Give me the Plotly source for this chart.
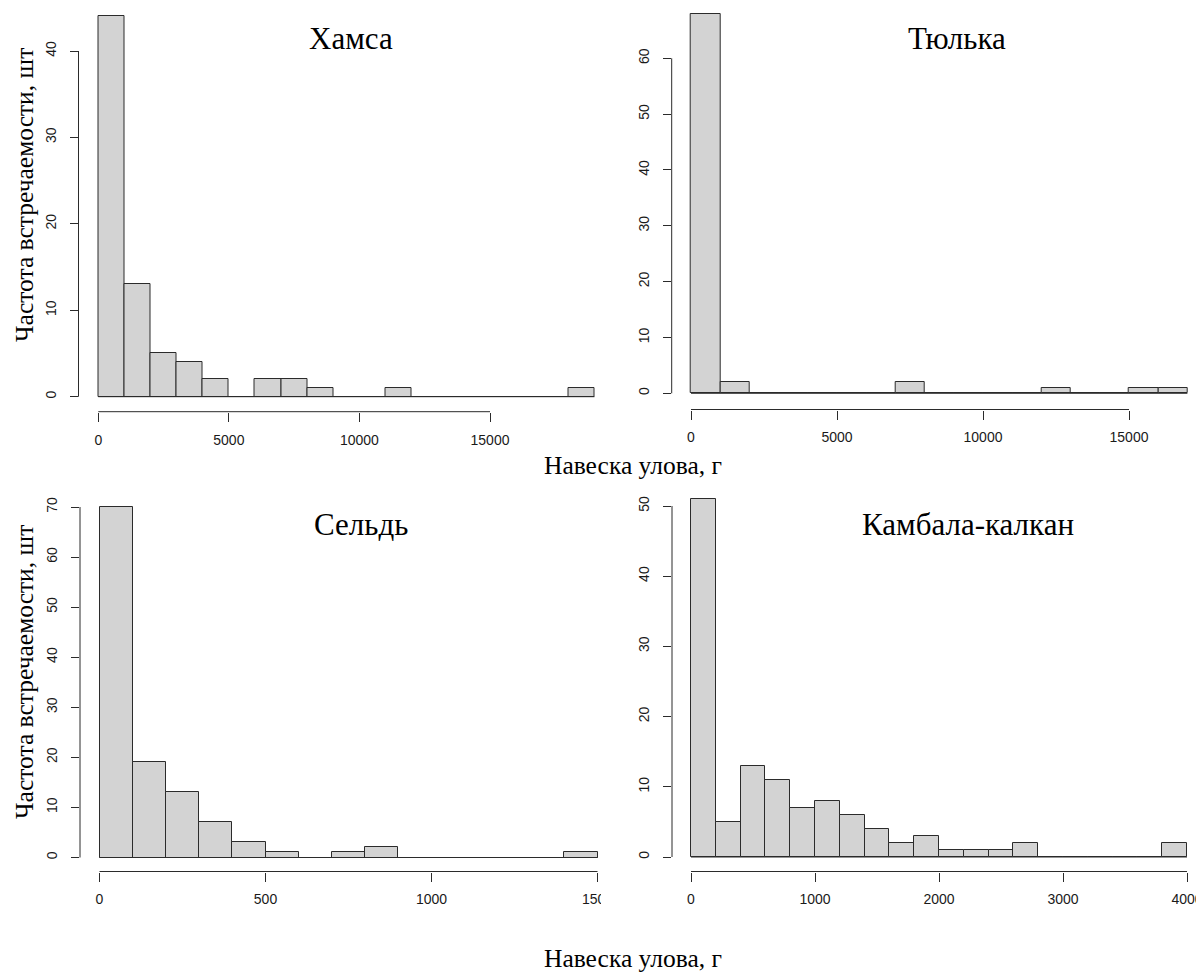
import plotly.graph_objects as go

# ---------------- data ----------------
hamsa_counts = [44, 13, 5, 4, 2, 0, 2, 2, 1, 0, 0, 1, 0, 0, 0, 0, 0, 0, 1]
hamsa_bin = 1000
hamsa_xticks = [0, 5000, 10000, 15000]
hamsa_yticks = [0, 10, 20, 30, 40]

tyulka_counts = [68, 2, 0, 0, 0, 0, 0, 2, 0, 0, 0, 0, 1, 0, 0, 1, 1]
tyulka_bin = 1000
tyulka_xticks = [0, 5000, 10000, 15000]
tyulka_yticks = [0, 10, 20, 30, 40, 50, 60]

seld_counts = [70, 19, 13, 7, 3, 1, 0, 1, 2, 0, 0, 0, 0, 0, 1]
seld_bin = 100
seld_xticks = [0, 500, 1000, 1500]
seld_yticks = [0, 10, 20, 30, 40, 50, 60, 70]

kalkan_counts = [51, 5, 13, 11, 7, 8, 6, 4, 2, 3, 1, 1, 1, 2, 0, 0, 0, 0, 0, 2]
kalkan_bin = 200
kalkan_xticks = [0, 1000, 2000, 3000, 4000]
kalkan_yticks = [0, 10, 20, 30, 40, 50]

titles = ["Хамса", "Тюлька", "Сельдь", "Камбала-калкан"]
ylabel = "Частота встречаемости, шт"
xlabel = "Навеска улова, г"

# ---------------- layout helpers ----------------
# The page body has an 8px default margin, so the figure is drawn 8px in
# from the window's top-left corner; all positions below are window pixels.
OFF = 8
W, H = 1204, 975
FW, FH = W - OFF, H - OFF
SERIF = "Liberation Serif, Times New Roman, serif"
SANS = "Liberation Sans, Arial, Helvetica, sans-serif"
LINE = "#2b2b2b"
FILL = "#D3D3D3"
TICKFONT = dict(family=SANS, size=14, color="#1a1a1a")


def px_x(px):
    return (px - OFF) / FW


def px_y(py):
    return 1 - (py - OFF) / FH


def xaxis_cfg(p0, v0, p1, v1, left, right, tickvals, anchor):
    s = (p1 - p0) / (v1 - v0)
    left = max(left, OFF)
    right = min(right, W)
    rng = [v0 + (left - p0) / s, v0 + (right - p0) / s]
    return dict(domain=[px_x(left), px_x(right)], range=rng, anchor=anchor,
                tickmode="array", tickvals=tickvals, ticktext=[str(v) for v in tickvals],
                ticks="outside", ticklen=9, tickwidth=1, tickcolor=LINE,
                showline=False, showgrid=False, zeroline=False,
                tickfont=TICKFONT, ticklabelstandoff=6, fixedrange=True)


def yaxis_cfg(p0, v0, p1, v1, top, bottom, tickvals, anchor):
    s = (p0 - p1) / (v1 - v0)
    top = max(top, OFF)
    bottom = min(bottom, H)
    rng = [v0 - (bottom - p0) / s, v0 + (p0 - top) / s]
    return dict(domain=[px_y(bottom), px_y(top)], range=rng, anchor=anchor,
                tickmode="array", tickvals=tickvals, ticktext=[str(v) for v in tickvals],
                ticks="outside", ticklen=8, tickwidth=1, tickcolor=LINE, tickangle=-90,
                showline=False, showgrid=False, zeroline=False,
                tickfont=TICKFONT, ticklabelstandoff=8, fixedrange=True)


panels = [
    dict(counts=hamsa_counts, bin=hamsa_bin, xt=hamsa_xticks, yt=hamsa_yticks,
         xc=(98.3, 0, 490.0, 15000), xbox=(78.5, 614.0),
         yc=(396.7, 0, 51.0, 40), ybox=(1.2, 411.7)),
    dict(counts=tyulka_counts, bin=tyulka_bin, xt=tyulka_xticks, yt=tyulka_yticks,
         xc=(691.0, 0, 1129.0, 15000), xbox=(671.7, 1204.0),
         yc=(393.3, 0, 58.3, 60), ybox=(0.0, 409.5)),
    dict(counts=seld_counts, bin=seld_bin, xt=seld_xticks, yt=seld_yticks,
         xc=(99.5, 0, 265.5, 500), xbox=(80.0, 617.0),
         yc=(857.5, 0, 507.0, 70), ybox=(470.0, 871.5)),
    dict(counts=kalkan_counts, bin=kalkan_bin, xt=kalkan_xticks, yt=kalkan_yticks,
         xc=(691.0, 0, 1187.0, 4000), xbox=(672.0, 1204.0),
         yc=(857.0, 0, 506.0, 50), ybox=(470.0, 871.5)),
]

fig = go.Figure()
layout = dict(width=FW, height=FH, autosize=False, margin=dict(l=0, r=0, t=0, b=0),
              paper_bgcolor="white", plot_bgcolor="white", showlegend=False,
              bargap=0)
shapes = []

for i, p in enumerate(panels, start=1):
    sfx = "" if i == 1 else str(i)
    xa, ya = "x" + sfx, "y" + sfx
    n = len(p["counts"])
    centers = [(k + 0.5) * p["bin"] for k in range(n)]
    fig.add_trace(go.Bar(x=centers, y=p["counts"], width=[p["bin"]] * n,
                         marker=dict(color=FILL, line=dict(color=LINE, width=1)),
                         xaxis=xa, yaxis=ya, hoverinfo="x+y"))
    # baseline of the histogram (zero-height bins)
    fig.add_trace(go.Scatter(x=[0, n * p["bin"]], y=[0, 0], mode="lines",
                             line=dict(color=LINE, width=1), xaxis=xa, yaxis=ya,
                             hoverinfo="skip"))
    layout["xaxis" + sfx] = xaxis_cfg(*p["xc"], *p["xbox"], p["xt"], ya)
    layout["yaxis" + sfx] = yaxis_cfg(*p["yc"], *p["ybox"], p["yt"], xa)
    # R-style axis lines spanning only the tick range
    shapes.append(dict(type="line", xref=xa + " domain", yref=ya, x0=0, x1=0,
                       y0=p["yt"][0], y1=p["yt"][-1], line=dict(color=LINE, width=1)))
    shapes.append(dict(type="line", xref=xa, yref=ya + " domain", x0=p["xt"][0],
                       x1=p["xt"][-1], y0=0, y1=0, line=dict(color=LINE, width=1)))

# crop of the bottom-left panel (its last tick label is cut in the source image)
shapes.append(dict(type="rect", xref="paper", yref="paper", layer="above",
                   x0=px_x(601), x1=px_x(640), y0=px_y(912), y1=px_y(880),
                   fillcolor="white", line=dict(width=0)))

layout["shapes"] = shapes


def ann(text, px, py, size, angle=0):
    return dict(text=text, x=px_x(px), y=px_y(py), xref="paper", yref="paper",
                xanchor="center", yanchor="middle", showarrow=False, textangle=angle,
                font=dict(family=SERIF, size=size, color="black"))


layout["annotations"] = [
    ann(titles[0], 351, 38, 31),
    ann(titles[1], 957, 38, 31),
    ann(titles[2], 361, 524, 31),
    ann(titles[3], 968, 524, 31),
    ann(ylabel, 24, 195, 25.5, -90),
    ann(ylabel, 24, 672, 25.5, -90),
    ann(xlabel, 633, 466, 25.5),
    ann(xlabel, 633, 958, 25.5),
]

fig.update_layout(**layout)
fig.write_html("out.html")
